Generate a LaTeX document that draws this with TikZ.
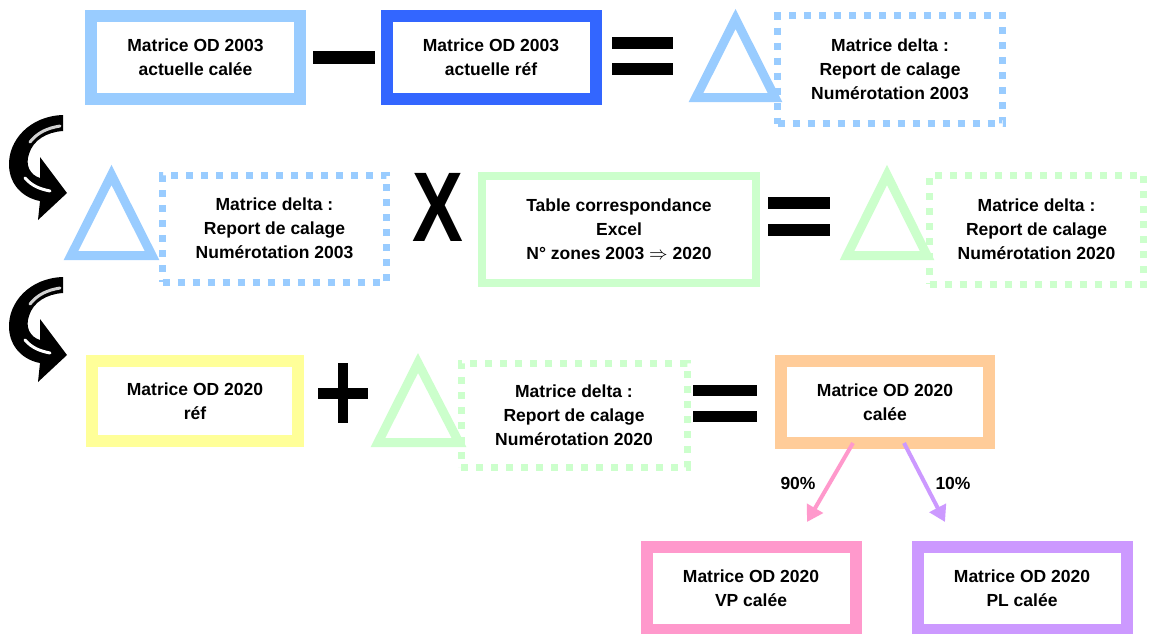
\documentclass[tikz,border=0pt]{standalone}
\usepackage{fontspec}
\setmainfont{Liberation Sans}
\usetikzlibrary{arrows.meta}
\definecolor{calblue}{HTML}{99CCFF}
\definecolor{refblue}{HTML}{3366FF}
\definecolor{tabgreen}{HTML}{CCFFCC}
\definecolor{refyellow}{HTML}{FFFF99}
\definecolor{calorange}{HTML}{FFCC99}
\definecolor{vppink}{HTML}{FF99CC}
\definecolor{plpurple}{HTML}{CC99FF}
\tikzset{
  txt/.style={font=\bfseries\fontsize{8.75}{12}\selectfont, align=center},
  matbox/.style={txt, draw=#1, line width=6pt, fill=white, inner sep=0pt,
    minimum width=104.5pt, minimum height=41.5pt},
  deltabox/.style={txt, draw=#1, line width=3.5pt, dash pattern=on 3.5pt off 4pt,
    inner sep=0pt},
  deltatri/.style={draw=#1, line width=4.5pt, line join=miter},
  share/.style={draw=#1, line width=2pt, -{Triangle[length=8pt,width=9pt]}},
}
\begin{document}
\begin{tikzpicture}[x=0.5pt, y=-0.5pt]
  \useasboundingbox[fill=white] (0,0) rectangle (1149,633);
  % ligne 1
  \node[matbox=calblue] at (195.5,57.5) (cal03) {Matrice OD 2003\\actuelle calée};
  \node[matbox=refblue] at (491,57.5) (ref03) {Matrice OD 2003\\actuelle réf};
  \fill (313,51) rectangle (375,64);
  \fill (612,37) rectangle (673,49);
  \fill (612,63) rectangle (673,75);
  \draw[deltatri=calblue] (735.5,19) -- (775,97.5) -- (696,97.5) -- cycle;
  \node[deltabox=calblue, minimum width=112.5pt, minimum height=54pt] at (890,69.5) (d03a)
    {Matrice delta :\\Report de calage\\Numérotation 2003};
  % fleches de renvoi
  \foreach \dy in {0,162}
  {
  \begin{scope}[shift={(0,\dy)}]
    \fill (63,115) .. controls (30,116) and (8,140) .. (9,166)
      .. controls (10,186) and (24,198) .. (40,201)
      -- (38,220) -- (67,193) -- (40,157) -- (40,178)
      .. controls (30,175) and (25,165) .. (29,154)
      .. controls (33,140) and (47,132) .. (63,131) -- cycle;
    \draw[gray!35, line width=1.5pt, line cap=round] (30,142) .. controls (38,132) and (48,128) .. (60,126);
    \draw[white, line width=1.5pt, line cap=round] (25,178) .. controls (32,186) and (40,189) .. (50,191);
  \end{scope}
  }
  % ligne 2
  \draw[deltatri=calblue] (111.5,175) -- (152,255.5) -- (71,255.5) -- cycle;
  \node[deltabox=calblue, minimum width=112pt, minimum height=53.5pt] at (274.5,228.5) (d03b)
    {Matrice delta :\\Report de calage\\Numérotation 2003};
  \node[font=\bfseries\fontsize{49.5}{50}\selectfont, xscale=0.77, inner sep=0pt] at (437.5,207.5) (fois) {X};
  \node[txt, draw=tabgreen, line width=4pt, inner sep=0pt, minimum width=137pt, minimum height=53.5pt]
    at (619,229.5) (table) {Table correspondance\\Excel\\N° zones 2003 $\Rightarrow$ 2020};
  \fill (768,197) rectangle (830,209);
  \fill (768,224) rectangle (830,236);
  \draw[deltatri=tabgreen] (887,175) -- (927,255.5) -- (847,255.5) -- cycle;
  \node[deltabox=tabgreen, minimum width=107pt, minimum height=54.5pt] at (1036.5,229.5) (d20a)
    {Matrice delta :\\Report de calage\\Numérotation 2020};
  % ligne 3
  \node[matbox=refyellow, minimum width=103pt, minimum height=40pt] at (195,401) (ref20) {Matrice OD 2020\\réf};
  \fill (318,388) rectangle (368,399);
  \fill (338,363) rectangle (348,423);
  \draw[deltatri=tabgreen] (418,363) -- (459,442.5) -- (378,442.5) -- cycle;
  \node[deltabox=tabgreen, minimum width=113pt, minimum height=52pt] at (574,415) (d20b)
    {Matrice delta :\\Report de calage\\Numérotation 2020};
  \fill (693,385) rectangle (757,396);
  \fill (693,411) rectangle (757,422);
  \node[matbox=calorange, minimum width=104pt, minimum height=41pt] at (885,402) (cal20) {Matrice OD 2020\\calée};
  % repartition VP / PL
  \node[matbox=vppink] at (751,588.5) (vp) {Matrice OD 2020\\VP calée};
  \node[matbox=plpurple] at (1022,588.5) (pl) {Matrice OD 2020\\PL calée};
  \coordinate (vptip) at (807,522);
  \coordinate (pltip) at (945,522);
  \draw[share=vppink] ([xshift=-16pt, yshift=3pt]cal20.south) -- (vptip);
  \draw[share=plpurple] ([xshift=9.5pt, yshift=3pt]cal20.south) -- (pltip);
  \node[txt] at (798,483) (p90) {90\%};
  \node[txt] at (953,483) (p10) {10\%};
\end{tikzpicture}
\end{document}
